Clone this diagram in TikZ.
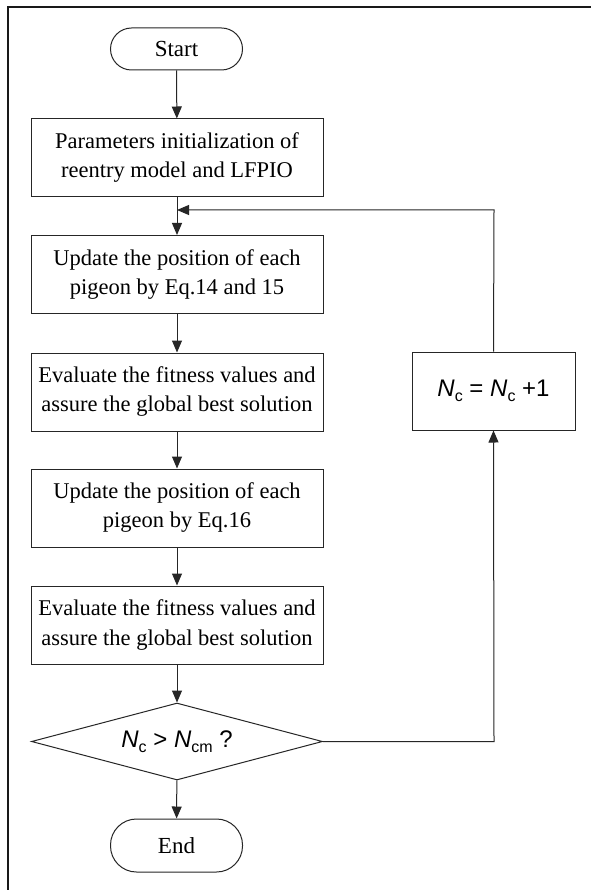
\documentclass[tikz,border=0pt]{standalone}
\usepackage{fontspec}
\setmainfont{Liberation Serif}
\setsansfont{Liberation Sans}
\usetikzlibrary{shapes.geometric,arrows.meta}
\newcommand\NN[1]{\textit{N}\raisebox{-0.35ex}{\fontsize{16}{16}\selectfont #1}}
\tikzset{
  line/.style={draw=black!85, line width=1pt},
  arr/.style={line, -{Triangle[length=12pt,width=10pt]}},
  proc/.style={line, rectangle, minimum width=292pt, minimum height=78pt, inner sep=0pt,
     align=center, font=\fontsize{22.5}{29}\selectfont},
  term/.style={line, rectangle, rounded corners=21pt, minimum width=132pt, minimum height=42pt,
     inner sep=0pt, font=\fontsize{23}{26}\selectfont},
  dec/.style={line, diamond, aspect=3.8, minimum width=291pt, minimum height=77pt, inner sep=0pt,
     font=\sffamily\fontsize{24}{26}\selectfont},
  incbox/.style={line, rectangle, minimum width=163pt, minimum height=78pt, inner sep=0pt,
     font=\sffamily\fontsize{24}{26}\selectfont},
}
\begin{document}
\begin{tikzpicture}[x=1pt,y=-1pt]
\useasboundingbox (0,0) rectangle (590,890);
\fill[white] (0,0) rectangle (590,890);
% outer frame
\draw[line width=2.5pt, black!90] (8,900) -- (8,7) -- (600,7);

\node[term] (start) at (176.5,49) {Start};
\node[proc] (b1) at (177,158) {Parameters initialization of\\reentry model and LFPIO};
\node[proc] (b2) at (177,274.5) {Update the position of each\\pigeon by Eq.14 and 15};
\node[proc] (b3) at (177,392) {Evaluate the fitness values and\\assure the global best solution};
\node[proc] (b4) at (177,508) {Update the position of each\\pigeon by Eq.16};
\node[proc] (b5) at (177,625) {Evaluate the fitness values and\\assure the global best solution};
\node[dec] (d) at (177,741.5) {\NN{c} > \NN{cm} ?};
\node[term, minimum height=53pt, rounded corners=26pt] (end) at (176.5,845.5) {End};
\node[incbox] (inc) at (493.5,391) {\NN{c} = \NN{c} +1};

\coordinate (join) at (177,210);
\coordinate (corner1) at (494,210);
\coordinate (corner2) at (494,741.5);

\draw[arr] (start) -- (b1);
\draw[arr] (b1) -- (b2);
\draw[arr] (b2) -- (b3);
\draw[arr] (b3) -- (b4);
\draw[arr] (b4) -- (b5);
\draw[arr] (b5) -- (d);
\draw[arr] (d) -- (end);
\draw[arr] (d.east) -- (corner2) -- (inc.south);
\draw[arr] (inc.north) -- (corner1) -- (join);
\end{tikzpicture}
\end{document}
